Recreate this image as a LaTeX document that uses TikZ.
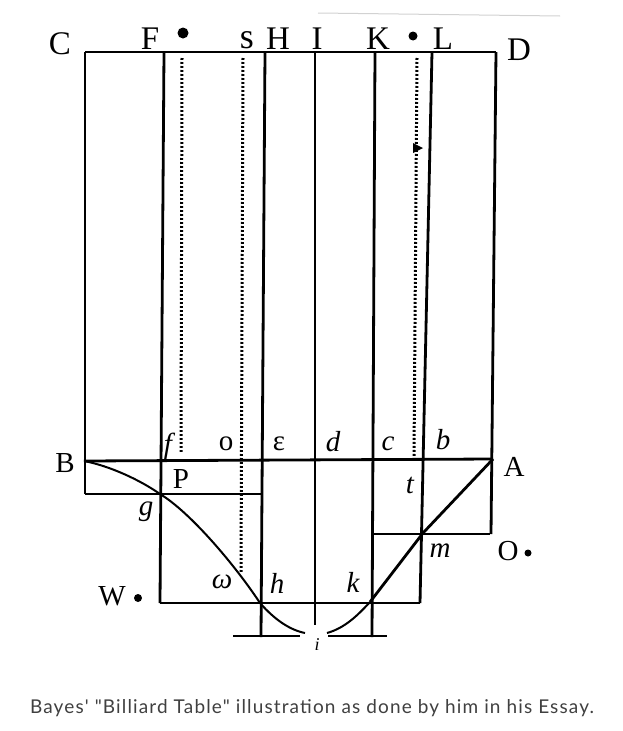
\documentclass[tikz,border=0pt]{standalone}
\usepackage{fontspec}
\setmainfont{Liberation Serif}
\newfontfamily\capfont[LetterSpace=6]{Lato}

\begin{document}
\begin{tikzpicture}[x=1pt, y=-1pt,
	rule/.style={line width=2.8pt},
	thinrule/.style={line width=2pt},
	dotline/.style={line width=3pt, dash pattern=on 1.8pt off 2.2pt},
	curve/.style={line width=2pt},
	lab/.style={inner sep=0pt, font=\fontsize{29}{29}\selectfont},
	toplab/.style={inner sep=0pt, font=\fontsize{33}{33}\selectfont}]
	\fill[white] (0,0) rectangle (623,731);
	\useasboundingbox (0,0) rectangle (623,731);

	% scan edge
	\draw[gray!35, line width=1pt] (318,13) -- (560,16);

	\coordinate (C) at (85,52);
	\coordinate (D) at (496,52);
	\coordinate (B) at (84,461);
	\coordinate (A) at (493,459);
	\coordinate (g) at (160,494);
	\coordinate (h) at (260,603);
	\coordinate (k) at (370,602);
	\coordinate (m) at (423,533);

	% table
	\draw[rule] (C) -- (D);
	\draw[rule] (C) -- (85,494);
	\draw[rule] (D) -- (491,534);
	\draw[rule] (164,52) -- (160,603);
	\draw[rule] (265,52) -- (261,637);
	\draw[thinrule] (315,52) -- (315,625);
	\draw[rule] (375,52) -- (372,637);
	\draw[rule] (432,52) -- (420,603);

	\draw[dotline] (182,58) -- (181,452);
	\draw[dotline] (243,58) -- (241,573);
	\draw[dotline] (417,58) -- (414,456);
	\fill (413,143) -- (423,148) -- (413,153) -- cycle;

	\draw[rule] (B) -- (A);
	\draw[rule] (85,494) -- (263,494);
	\draw[rule] (373,534) -- (490,534);
	\draw[rule] (160,603) -- (420,603);
	\draw[thinrule] (233,636) -- (300,636);
	\draw[thinrule] (328,636) -- (387,636);

	% curve
	\draw[curve] (B) .. controls (110,466) and (140,480) .. (g)
		.. controls (190,512) and (235,565) .. (h)
		.. controls (275,620) and (290,630) .. (305,633);
	\draw[curve] (327,633) .. controls (345,628) and (358,615) .. (k);
	\draw[rule] (k) -- (m) -- (A);

	% dots
	\fill (183,33) circle (5.5pt);
	\fill (413,36) circle (4.5pt);
	\fill (138,598) circle (4pt);
	\fill (528,553) circle (3.5pt);

	% letters
	\node[toplab] (lC) at (60,44) {C};
	\node[toplab] (lF) at (150,39) {F};
	\node[toplab] (ls) at (247,40) {\fontsize{36}{36}\selectfont s};
	\node[toplab] (lH) at (278,39) {H};
	\node[toplab] (lI) at (317,39) {I};
	\node[toplab] (lK) at (378,39) {K};
	\node[toplab] (lL) at (443,39) {L};
	\node[toplab] (lD) at (519,50) {D};

	\node[lab] (lB) at (65,463) {B};
	\node[lab] (lA) at (514,467) {A};
	\node[lab] (lf) at (168,446) {\itshape f};
	\node[lab] (lo) at (226,444) {o};
	\node[lab] (le) at (279,444) {ε};
	\node[lab] (ld) at (333,442) {\itshape d};
	\node[lab] (lc) at (388,444) {\itshape c};
	\node[lab] (lb) at (443,440) {\itshape b};
	\node[lab] (lP) at (181,479) {P};
	\node[lab] (lt) at (410,485) {\itshape t};
	\node[lab] (lg) at (146,512) {\itshape g};
	\node[lab] (lW) at (112,596) {W};
	\node[lab] (lw) at (222,582) {\itshape ω};
	\node[lab] (lh) at (277,583) {\itshape h};
	\node[lab] (lk) at (353,582) {\itshape k};
	\node[lab] (lm) at (440,551) {\itshape m};
	\node[lab] (lO) at (508,551) {O};
	\node[inner sep=0pt, font=\fontsize{18}{18}\selectfont\itshape] (li) at (317,645) {i};

	\node[inner sep=0pt, text=black!75, font=\capfont\fontsize{19}{19}\selectfont] (cap) at (312,708)
		{Bayes' "Billiard Table" illustration as done by him in his Essay.};
\end{tikzpicture}
\end{document}
